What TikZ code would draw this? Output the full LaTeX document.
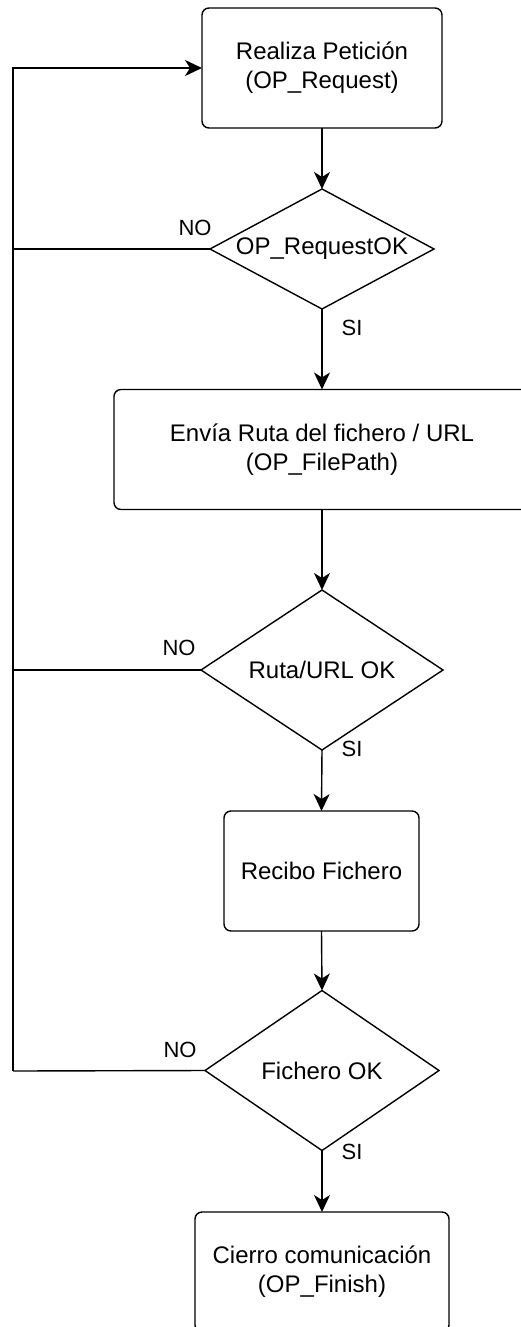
\documentclass[tikz,border=0pt]{standalone}
\usepackage{fontspec}
\setmainfont{Liberation Sans}
\usetikzlibrary{shapes.geometric,arrows.meta}

\begin{document}
\begin{tikzpicture}[x=1pt,y=-1pt,
  every node/.style={outer sep=0pt},
  procbox/.style={draw, line width=1.4pt, rounded corners=7pt, inner sep=0pt,
    align=center, font=\fontsize{24}{28.8}\selectfont},
  decision/.style={draw, line width=1.4pt, diamond, inner sep=0pt,
    font=\fontsize{24}{28.8}\selectfont},
  edgelabel/.style={font=\fontsize{22}{26.4}\selectfont, inner sep=0pt},
  flow/.style={line width=1.4pt, -{Stealth[length=17pt,width=16pt,inset=5pt]}},
  back/.style={line width=1.4pt},
  loopline/.style={line width=2.2pt, line join=miter}
]
\useasboundingbox (0,0) rectangle (521,1327);
\clip (0,0) rectangle (521,1327);

% process steps and decisions
\node[procbox, minimum width=240pt, minimum height=120pt] (b1) at (322,68)
  {Realiza Petición\\(OP\_Request)};
\node[decision, minimum width=224pt, minimum height=120pt, aspect=1.87] (d1) at (322,249)
  {OP\_RequestOK};
\node[procbox, minimum width=416pt, minimum height=120pt] (b2) at (322,449.5)
  {Envía Ruta del fichero / URL\\(OP\_FilePath)};
\node[decision, minimum width=242pt, minimum height=160pt, aspect=1.51] (d2) at (322,670)
  {Ruta/URL OK};
\node[procbox, minimum width=195pt, minimum height=120pt] (b3) at (321.5,871)
  {Recibo Fichero};
\node[decision, minimum width=234pt, minimum height=160pt, aspect=1.46] (d3) at (322,1070.5)
  {Fichero OK};
\node[procbox, minimum width=254pt, minimum height=120pt] (b4) at (322,1272)
  {Cierro comunicación\\(OP\_Finish)};

% main flow
\draw[flow] (b1.south) -- (d1.north);
\draw[flow] (d1.south) -- (b2.north);
\draw[flow] (b2.south) -- (d2.north);
\draw[flow] (d2.south) -- (b3.north);
\draw[flow] (b3.south) -- (d3.north);
\draw[flow] (d3.south) -- (b4.north);

% return path to the request step
\coordinate (loopTop) at (13,68);
\coordinate (loopBot) at (13,1071);
\draw[back] (d1.west) -- (d1.west -| loopTop);
\draw[back] (d2.west) -- (d2.west -| loopTop);
\draw[back] (d3.west) -- (loopBot);
\draw[loopline, -{Stealth[length=17pt,width=16pt,inset=5pt]}]
  (loopBot) -- (loopTop) -- (b1.west);

% branch labels
\node[edgelabel] (no1) at (195,228) {NO};
\node[edgelabel] (no2) at (179,648) {NO};
\node[edgelabel] (no3) at (180,1050) {NO};
\node[edgelabel] (si1) at (352,328) {SI};
\node[edgelabel] (si2) at (352,749) {SI};
\node[edgelabel] (si3) at (352,1152) {SI};
\end{tikzpicture}
\end{document}
